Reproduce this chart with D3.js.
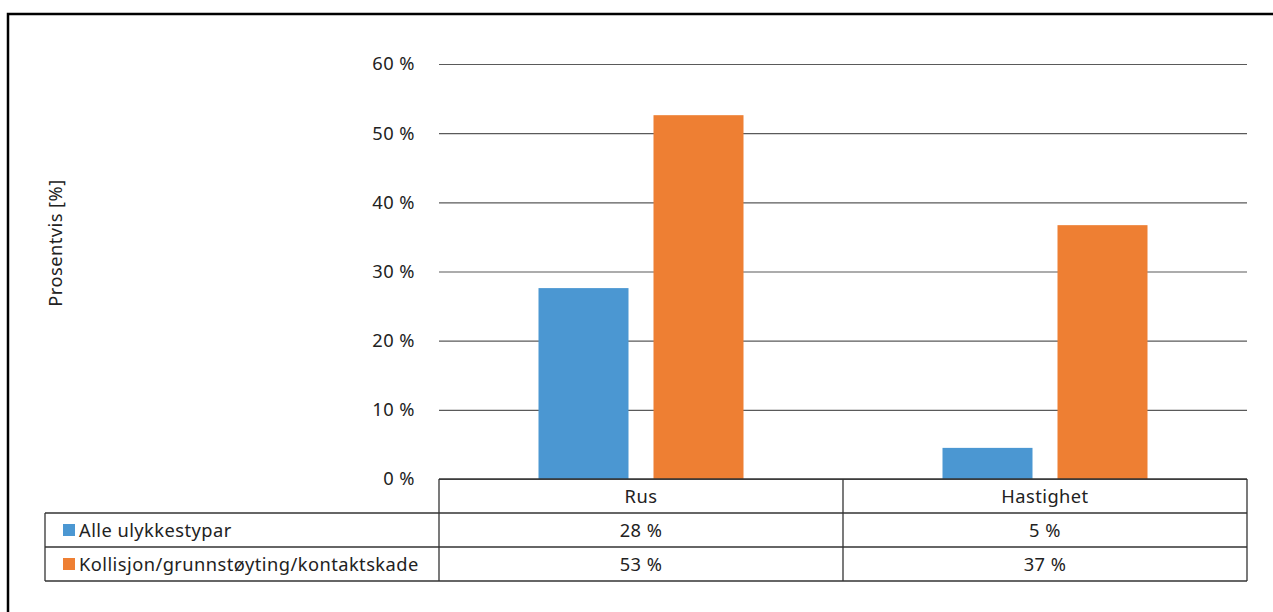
<!DOCTYPE html>
<html>
<head>
<meta charset="utf-8">
<script src="https://cdn.jsdelivr.net/npm/d3@7"></script>
<style>
  html, body { margin: 0; padding: 0; background: #fff; }
  svg { display: block; font-family: "Noto Sans", "Open Sans", sans-serif; }
</style>
</head>
<body>
<svg id="chart" width="1273" height="612"></svg>
<script>
// Share of accidents (%) per cause, for two accident groupings
const categories = ["Rus", "Hastighet"];
const seriesNames = ["Alle ulykkestypar", "Kollisjon/grunnstøyting/kontaktskade"];
const alleUlykkestypar = [27.6, 4.5];
const kollisjon = [52.6, 36.7];
const yTicks = [0, 10, 20, 30, 40, 50, 60];
const yTitle = "Prosentvis [%]";

const seriesValues = [alleUlykkestypar, kollisjon];
const colors = ["#4b97d2", "#ee7f33"];
const fontSize = 18.3;
const letterSpacing = 0.45;

const svg = d3.select("#chart");

// outer frame
svg.append("rect")
  .attr("x", 8).attr("y", 14)
  .attr("width", 1280).attr("height", 620)
  .attr("fill", "none").attr("stroke", "#000").attr("stroke-width", 2.5);

const plot = { left: 439, right: 1247, top: 64, bottom: 479 };
const rowH = 34;
const tableLeft = 45;

const x = d3.scaleBand().domain(categories).range([plot.left, plot.right]);
const y = d3.scaleLinear().domain([0, 60]).range([plot.bottom, plot.top]);

const barW = 90, barGap = 25;
const x1 = d3.scaleBand().domain(d3.range(seriesNames.length))
  .range([0, barW * 2 + barGap]).paddingInner(barGap / (barW + barGap));

// gridlines + tick labels
const yAxis = d3.axisLeft(y).tickValues(yTicks)
  .tickSize(-(plot.right - plot.left))
  .tickFormat(d => d + " %")
  .tickPadding(24);
const gy = svg.append("g").attr("transform", `translate(${plot.left},0)`).call(yAxis);
gy.select(".domain").remove();
gy.selectAll(".tick line").attr("stroke", "#5a5a5a").attr("stroke-width", 1.2);
gy.selectAll(".tick text").attr("fill", "#222").attr("font-size", fontSize)
  .attr("letter-spacing", letterSpacing)
  .attr("font-family", "\"Noto Sans\", sans-serif");

// axis title
svg.append("text")
  .attr("transform", `translate(62,243) rotate(-90)`)
  .attr("text-anchor", "middle").attr("font-size", fontSize).attr("fill", "#222")
  .attr("letter-spacing", letterSpacing)
  .text(yTitle);

// bars
const groups = svg.append("g").selectAll("g").data(categories).join("g")
  .attr("transform", d => `translate(${x(d) + (x.bandwidth() - (barW * 2 + barGap)) / 2},0)`);
groups.selectAll("rect")
  .data((c, ci) => seriesValues.map((vals, si) => ({ si, v: vals[ci] })))
  .join("rect")
  .attr("x", d => x1(d.si))
  .attr("width", x1.bandwidth())
  .attr("y", d => y(d.v))
  .attr("height", d => y(0) - y(d.v))
  .attr("fill", d => colors[d.si]);

// data table
const tbl = svg.append("g").attr("stroke", "#333").attr("stroke-width", 1.3).attr("fill", "none");
const tBottom = plot.bottom + rowH * 3;
tbl.append("line").attr("x1", plot.left).attr("x2", plot.right).attr("y1", plot.bottom).attr("y2", plot.bottom);
for (let r = 1; r <= 3; r++) {
  tbl.append("line").attr("x1", tableLeft).attr("x2", plot.right)
    .attr("y1", plot.bottom + rowH * r).attr("y2", plot.bottom + rowH * r);
}
tbl.append("line").attr("x1", tableLeft).attr("x2", tableLeft).attr("y1", plot.bottom + rowH).attr("y2", tBottom);
[plot.left, ...categories.slice(1).map(c => x(c)), plot.right].forEach(px => {
  tbl.append("line").attr("x1", px).attr("x2", px).attr("y1", plot.bottom).attr("y2", tBottom);
});

const txt = svg.append("g").attr("font-size", fontSize).attr("fill", "#222")
  .attr("letter-spacing", letterSpacing);
categories.forEach(c => {
  txt.append("text").attr("x", x(c) + x.bandwidth() / 2).attr("y", plot.bottom + rowH / 2 + 7)
    .attr("text-anchor", "middle").text(c);
});
seriesNames.forEach((name, si) => {
  const cy = plot.bottom + rowH * (si + 1) + rowH / 2;
  svg.append("rect").attr("x", 63).attr("y", cy - 6).attr("width", 12).attr("height", 12).attr("fill", colors[si]);
  txt.append("text").attr("x", 79).attr("y", cy + 7).text(name);
  categories.forEach((c, ci) => {
    txt.append("text").attr("x", x(c) + x.bandwidth() / 2).attr("y", cy + 7)
      .attr("text-anchor", "middle").text(Math.round(seriesValues[si][ci]) + " %");
  });
});
</script>
</body>
</html>
